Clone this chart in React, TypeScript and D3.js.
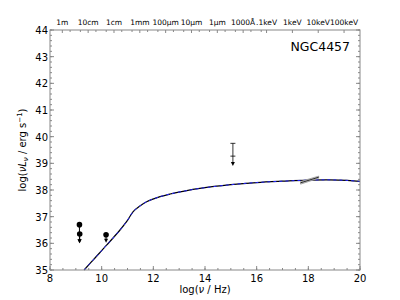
import React from "react";
import * as d3 from "d3";

const W = 400, H = 300;
const M = { left: 50, right: 40, top: 30, bottom: 30 };

const xTicks = [8, 10, 12, 14, 16, 18, 20];
const yTicks = [35, 36, 37, 38, 39, 40, 41, 42, 43, 44];
const topLabels = ["1m", "10cm", "1cm", "1mm", "100\u03bcm", "10\u03bcm", "1\u03bcm", "1000\u00c5", ".1keV", "1keV", "10keV", "100keV"];
const topPos = [8.477, 9.477, 10.477, 11.477, 12.477, 13.477, 14.477, 15.477, 16.383, 17.383, 18.383, 19.383];

const modelX = [9.32, 9.75, 10.2, 10.71, 11.0, 11.22, 11.48, 11.74, 12.26, 12.65, 13.2, 13.8, 15.0, 16.0, 17.0, 18.0, 18.8, 19.5, 20.0];
const modelY = [35.0, 35.46, 35.94, 36.5, 36.86, 37.19, 37.4, 37.56, 37.75, 37.85, 37.96, 38.06, 38.2, 38.28, 38.33, 38.37, 38.38, 38.36, 38.32];

const ulX = [9.14, 9.15, 10.17];
const ulY = [36.7, 36.35, 36.32];
const ulEnd = [36.0, 36.0, 36.02];

const limX = 15.08;
const limTop = 39.75;
const limMid = 39.27;
const limEnd = 38.9;

const bowX = [17.7, 18.4];
const bowLo = [38.22, 38.44];
const bowHi = [38.32, 38.52];
const bowMid = [38.27, 38.48];

export default function App() {
  const x = d3.scaleLinear().domain([8, 20]).range([M.left, W - M.right]);
  const y = d3.scaleLinear().domain([35, 44]).range([H - M.bottom, M.top]);
  const line = d3.line<[number, number]>().x(d => x(d[0])).y(d => y(d[1])).curve(d3.curveCatmullRom.alpha(0.5));
  const modelPts: [number, number][] = modelX.map((v, i) => [v, modelY[i]]);
  const xMinor = d3.range(8, 20.01, 0.5);
  const yMinor = d3.range(35, 44.01, 0.2);
  const topMinor: number[] = [];
  topPos.forEach((p, i) => {
    if (i < 8) [0.301, 0.699].forEach(o => { if (p + o < 20) topMinor.push(p + o); });
  });
  const axisCol = "#888";
  const font = "DejaVu Sans, sans-serif";
  const x0 = M.left, x1 = W - M.right, y0 = H - M.bottom, y1 = M.top;
  const bowPoly: [number, number][] = [[bowX[0], bowLo[0]], [bowX[1], bowLo[1]], [bowX[1], bowHi[1]], [bowX[0], bowHi[0]]];
  return (
    <svg width={W} height={H} style={{ position: "absolute", left: 0, top: 0, background: "#fff" }} fontFamily={font}>
      <rect x={0} y={0} width={W} height={H} fill="#fff" />
      {/* model */}
      <path d={line(modelPts) || ""} fill="none" stroke="#000" strokeWidth={1.2} />
      <path d={line(modelPts) || ""} fill="none" stroke="#2222ff" strokeWidth={1} strokeDasharray="3,3" />
      {/* bowtie */}
      <path d={"M" + bowPoly.map(p => `${x(p[0])},${y(p[1])}`).join("L") + "Z"} fill="#ccc" stroke="#999" strokeWidth={0.8} />
      <line x1={x(bowX[0])} y1={y(bowMid[0])} x2={x(bowX[1])} y2={y(bowMid[1])} stroke="#000" strokeWidth={0.8} />
      {/* upper limits with points */}
      {ulX.map((v, i) => (
        <g key={i}>
          <line x1={x(v)} x2={x(v)} y1={y(ulY[i])} y2={y(ulEnd[i]) - 3} stroke="#000" strokeWidth={1} />
          <path d={`M${x(v) - 2},${y(ulEnd[i]) - 4}L${x(v) + 2},${y(ulEnd[i]) - 4}L${x(v)},${y(ulEnd[i])}Z`} fill="#000" />
          <circle cx={x(v)} cy={y(ulY[i])} r={2.8} fill="#000" />
        </g>
      ))}
      {/* upper limit bar */}
      <g stroke="#000" strokeWidth={0.8}>
        <line x1={x(limX)} x2={x(limX)} y1={y(limTop)} y2={y(limEnd) - 3} />
        <line x1={x(limX) - 2.5} x2={x(limX) + 2.5} y1={y(limTop)} y2={y(limTop)} />
        <line x1={x(limX) - 2.5} x2={x(limX) + 2.5} y1={y(limMid)} y2={y(limMid)} />
      </g>
      <path d={`M${x(limX) - 2},${y(limEnd) - 4}L${x(limX) + 2},${y(limEnd) - 4}L${x(limX)},${y(limEnd)}Z`} fill="#000" />
      {/* frame */}
      <rect x={x0} y={y1} width={x1 - x0} height={y0 - y1} fill="none" stroke={axisCol} strokeWidth={1} />
      {xTicks.map(t => (
        <g key={"xt" + t}>
          <line x1={x(t)} x2={x(t)} y1={y0} y2={y0 - 4} stroke={axisCol} />
          <text x={x(t)} y={y0 + 12} fontSize={10} textAnchor="middle" fill="#000">{t}</text>
        </g>
      ))}
      {xMinor.map((t, i) => (
        <line key={"xm" + i} x1={x(t)} x2={x(t)} y1={y0} y2={y0 - 2} stroke={axisCol} />
      ))}
      {yTicks.map(t => (
        <g key={"yt" + t}>
          <line x1={x0} x2={x0 + 4} y1={y(t)} y2={y(t)} stroke={axisCol} />
          <line x1={x1} x2={x1 - 4} y1={y(t)} y2={y(t)} stroke={axisCol} />
          <text x={x0 - 2} y={y(t) + 4} fontSize={10} textAnchor="end" fill="#000">{t}</text>
        </g>
      ))}
      {yMinor.map((t, i) => (
        <g key={"ym" + i}>
          <line x1={x0} x2={x0 + 2} y1={y(t)} y2={y(t)} stroke={axisCol} />
          <line x1={x1} x2={x1 - 2} y1={y(t)} y2={y(t)} stroke={axisCol} />
        </g>
      ))}
      {topPos.map((p, i) => (
        <g key={"tp" + i}>
          <line x1={x(p)} x2={x(p)} y1={y1} y2={y1 + 3} stroke={axisCol} />
          <text x={x(p)} y={y1 - 5} fontSize={7.5} textAnchor="middle" fill="#000">{topLabels[i]}</text>
        </g>
      ))}
      {topMinor.map((p, i) => (
        <line key={"tm" + i} x1={x(p)} x2={x(p)} y1={y1} y2={y1 + 2} stroke={axisCol} />
      ))}
      <text x={350} y={51} fontSize={12.5} textAnchor="end" fill="#000">NGC4457</text>
      <text x={(x0 + x1) / 2} y={293} fontSize={10} textAnchor="middle" fill="#000">
        log(<tspan fontStyle="italic">ν</tspan> / Hz)
      </text>
      <text transform={`translate(26,${(y0 + y1) / 2}) rotate(-90)`} fontSize={10} textAnchor="middle" fill="#000">
        log(<tspan fontStyle="italic">νL</tspan><tspan fontStyle="italic" fontSize={7} dy={2}>ν</tspan><tspan dy={-2}> / erg s</tspan><tspan fontSize={7} dy={-4}>−1</tspan><tspan dy={4}>)</tspan>
      </text>
    </svg>
  );
}
